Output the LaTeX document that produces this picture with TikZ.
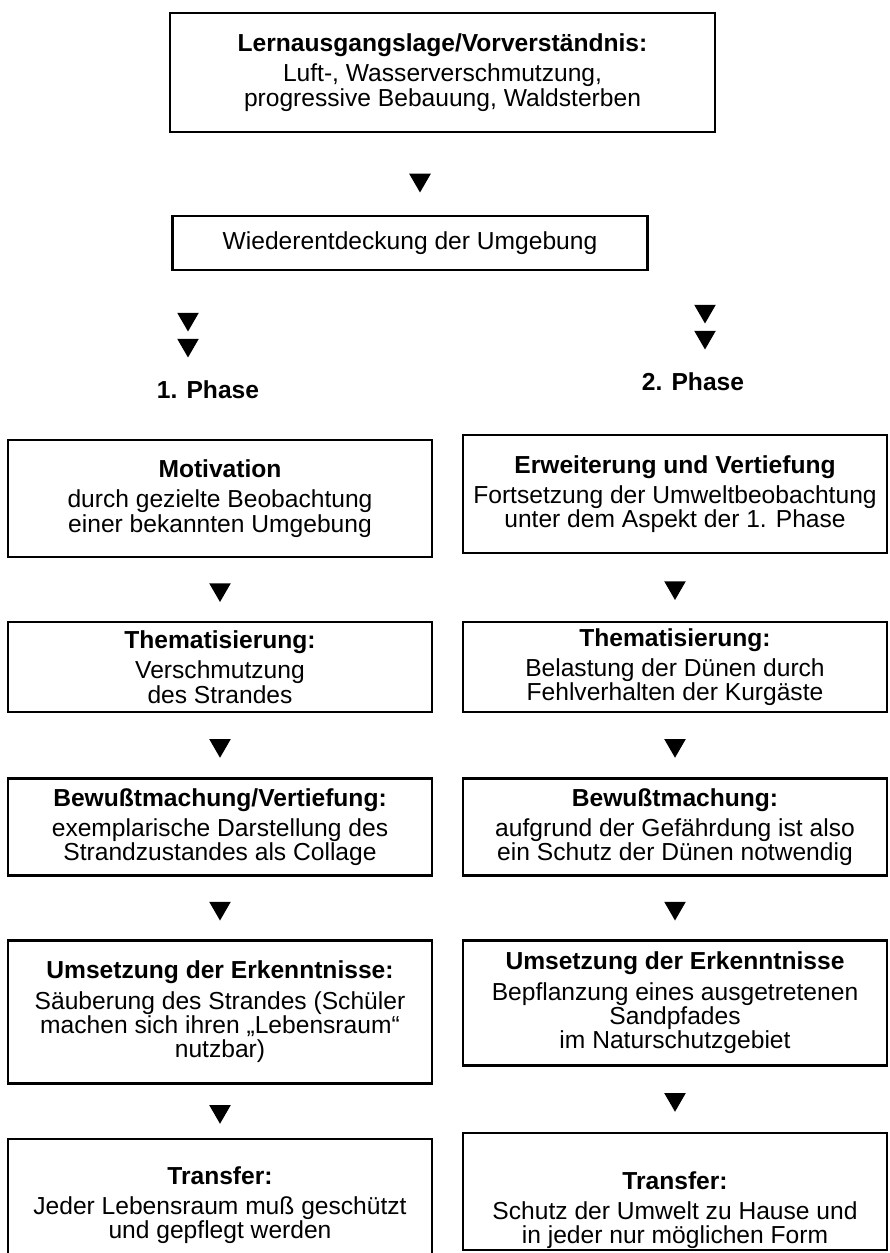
\documentclass[tikz,border=0pt]{standalone}
\usepackage{fontspec}
\setmainfont{Liberation Sans}
\usetikzlibrary{shapes.geometric,calc}

\tikzset{
	stage/.style={draw, line width=1.5pt, align=center, inner sep=0pt,
		font=\fontsize{14}{13.8}\selectfont},
	colbox/.style={stage, minimum width=8.48cm},
	arrowhead/.style={regular polygon, regular polygon sides=3,
		shape border rotate=180, fill=black, inner sep=0pt, minimum size=0.5cm},
	phase/.style={font=\fontsize{14}{13.8}\selectfont\bfseries}
}

\begin{document}
\begin{tikzpicture}[x=0.02cm, y=-0.02cm]
	\fill[white] (0,0) rectangle (889,1253);
	\useasboundingbox (0,0) rectangle (889,1253);
	\clip (0,0) rectangle (889,1253);

	%Start
	\node[stage,
	minimum width=10.9cm,
	minimum height=2.38cm] (Start) at (442.5,72.5){\textbf{Lernausgangslage/Vorverständnis:}\\[3.5pt]
		Luft-, Wasserverschmutzung,\\progressive Bebauung, Waldsterben};

	\node[stage,
	minimum width=9.5cm,
	minimum height=1.08cm] (Umgebung) at (410,243){Wiederentdeckung der Umgebung};

	\node[arrowhead] (a0) at (420,180){};

	%Phase 1
	\node[arrowhead] (l1) at (188,319){};
	\node[arrowhead] (l2) at (188,345){};
	\node[phase] (PhaseA) at (208,390){1. Phase};

	\node[colbox,
	minimum height=2.34cm] (MotL) at (220,498.5){\textbf{Motivation}\\[3.5pt]
		durch gezielte Beobachtung\\einer bekannten Umgebung};

	\node[colbox,
	minimum height=1.8cm] (ThemL) at (220,667){\textbf{Thematisierung:}\\[3.5pt]
		Verschmutzung\\des Strandes};

	\node[colbox,
	minimum height=1.94cm] (BewL) at (220,827){\textbf{Bewußtmachung/Vertiefung:}\\[3.5pt]
		exemplarische Darstellung des\\Strandzustandes als Collage};

	\node[colbox,
	minimum height=2.86cm] (UmsL) at (220,1012){\textbf{Umsetzung der Erkenntnisse:}\\[3.5pt]
		Säuberung des Strandes (Schüler\\machen sich ihren „Lebensraum“\\nutzbar)};

	\node[colbox,
	minimum height=2.64cm] (TransL) at (220,1205){\textbf{Transfer:}\\[3.5pt]
		Jeder Lebensraum muß geschützt\\und gepflegt werden};

	\node[arrowhead] at ($(MotL.south)!0.5!(ThemL.north)$){};
	\node[arrowhead] at ($(ThemL.south)!0.5!(BewL.north)$){};
	\node[arrowhead] at ($(BewL.south)!0.5!(UmsL.north)$){};
	\node[arrowhead] at ($(UmsL.south)!0.5!(TransL.north)$){};

	%Phase 2
	\node[arrowhead] (r1) at (705,311){};
	\node[arrowhead] (r2) at (705,337){};
	\node[phase] (PhaseB) at (693,382){2. Phase};

	\node[colbox,
	minimum height=2.36cm] (MotR) at (675,494){\textbf{Erweiterung und Vertiefung}\\[3.5pt]
		Fortsetzung der Umweltbeobachtung\\unter dem Aspekt der 1. Phase};

	\node[colbox,
	minimum height=1.8cm] (ThemR) at (675,667){\textbf{Thematisierung:}\\[3.5pt]
		Belastung der Dünen durch\\Fehlverhalten der Kurgäste};

	\node[colbox,
	minimum height=1.94cm] (BewR) at (675,827){\textbf{Bewußtmachung:}\\[3.5pt]
		aufgrund der Gefährdung ist also\\ein Schutz der Dünen notwendig};

	\node[colbox,
	minimum height=2.5cm] (UmsR) at (675,1003){\textbf{Umsetzung der Erkenntnisse}\\[3.5pt]
		Bepflanzung eines ausgetretenen\\Sandpfades\\im Naturschutzgebiet};

	\node[colbox,
	minimum height=2.34cm] (TransR) at (675,1191.5){\rule{0pt}{1.1cm}\textbf{Transfer:}\\[3.5pt]
		Schutz der Umwelt zu Hause und\\in jeder nur möglichen Form};

	\node[arrowhead] at ($(MotR.south)!0.5!(ThemR.north)$){};
	\node[arrowhead] at ($(ThemR.south)!0.5!(BewR.north)$){};
	\node[arrowhead] at ($(BewR.south)!0.5!(UmsR.north)$){};
	\node[arrowhead] at ($(UmsR.south)!0.5!(TransR.north)$){};
\end{tikzpicture}
\end{document}
